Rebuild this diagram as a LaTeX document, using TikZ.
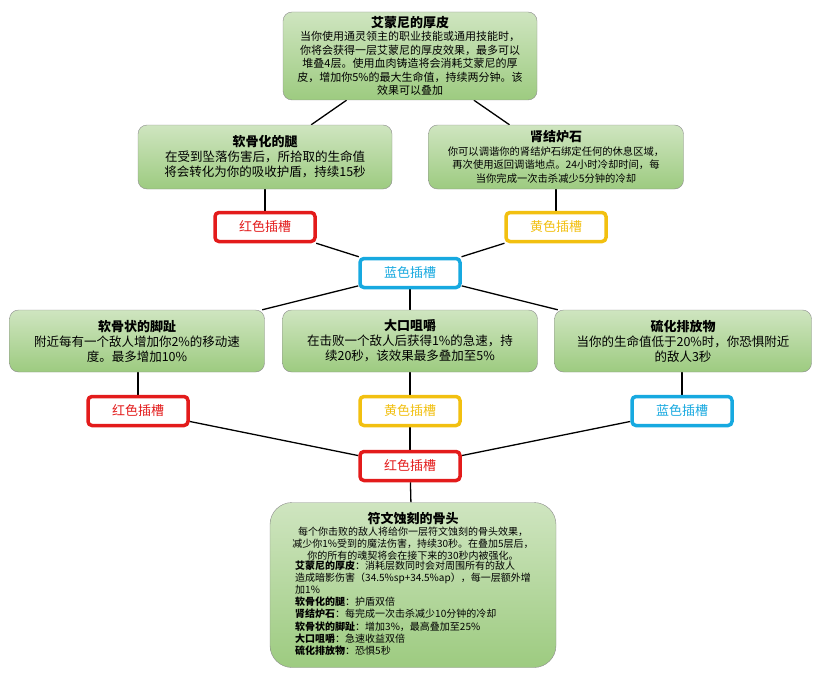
\documentclass[tikz,border=0pt]{standalone}
\usepackage{fontspec}
\setmainfont{Noto Sans CJK SC}
\usetikzlibrary{positioning, backgrounds}
\definecolor{gtop}{HTML}{CFE5C0}
\definecolor{gbot}{HTML}{9DCB80}
\definecolor{slotred}{HTML}{E31B1B}
\definecolor{slotyel}{HTML}{F2C010}
\definecolor{slotblu}{HTML}{17A9E0}
\tikzset{
  talent/.style={rectangle, draw=black!45, top color=gtop, bottom color=gbot,
    rounded corners=9pt, align=center, inner sep=2pt, font=\fontsize{12.5}{15}\selectfont},
  slot/.style={rectangle, draw=#1, line width=3.5pt, fill=white, rounded corners=4pt,
    minimum width=100pt, minimum height=29pt, text=#1, font=\fontsize{13}{15}\selectfont},
  link/.style={draw, line width=1.3pt},
}
\newcommand{\ttl}[1]{{\fontsize{13}{16}\selectfont\bfseries #1}}
\begin{document}
\begin{tikzpicture}[x=1pt, y=-1pt]
  \useasboundingbox (0,0) rectangle (821,682);
  \node [talent, minimum width=254pt, minimum height=88pt, font=\fontsize{11}{13.5}\selectfont] (hide) at (410,56)
    {\ttl{艾蒙尼的厚皮}\\当你使用通灵领主的职业技能或通用技能时，\\你将会获得一层艾蒙尼的厚皮效果，最多可以\\堆叠4层。使用血肉铸造将会消耗艾蒙尼的厚\\皮，增加你5\%的最大生命值，持续两分钟。该\\效果可以叠加};
  \node [talent, minimum width=254pt, minimum height=64pt] (legs) at (265,157)
    {\ttl{软骨化的腿}\\在受到坠落伤害后，所拾取的生命值\\将会转化为你的吸收护盾，持续15秒};
  \node [talent, minimum width=255pt, minimum height=64pt, font=\fontsize{10.3}{13.5}\selectfont] (stone) at (556,157)
    {\ttl{肾结炉石}\\你可以调谐你的肾结炉石绑定任何的休息区域，\\再次使用返回调谐地点。24小时冷却时间，每\\当你完成一次击杀减少5分钟的冷却};
  \node [slot=slotred] (sr1) at (265,227) {红色插槽};
  \node [slot=slotyel] (sy1) at (556,227) {黄色插槽};
  \node [slot=slotblu] (sb1) at (410,273) {蓝色插槽};
  \node [talent, minimum width=255pt, minimum height=62pt] (toes) at (137,341)
    {\ttl{软骨状的脚趾}\\附近每有一个敌人增加你2\%的移动速\\度。最多增加10\%};
  \node [talent, minimum width=255pt, minimum height=62pt] (chew) at (410,341)
    {\ttl{大口咀嚼}\\在击败一个敌人后获得1\%的急速，持\\续20秒，该效果最多叠加至5\%};
  \node [talent, minimum width=257pt, minimum height=62pt] (sulf) at (683,341)
    {\ttl{硫化排放物}\\当你的生命值低于20\%时，你恐惧附近\\的敌人3秒};
  \node [slot=slotred] (sr2) at (138,411) {红色插槽};
  \node [slot=slotyel] (sy2) at (410,411) {黄色插槽};
  \node [slot=slotblu] (sb2) at (682,411) {蓝色插槽};
  \node [slot=slotred] (sr3) at (410,466) {红色插槽};
  \node [talent, minimum width=286pt, minimum height=165pt, rounded corners=22pt,
    font=\fontsize{10}{11.9}\selectfont] (bone) at (413,585)
    {\ttl{符文蚀刻的骨头}\\每个你击败的敌人将给你一层符文蚀刻的骨头效果，\\减少你1\%受到的魔法伤害，持续30秒。在叠加5层后，\\你的所有的魂契将会在接下来的30秒内被强化。\\
     \begin{tabular}{@{}l@{}}
     \textbf{艾蒙尼的厚皮}：消耗层数同时会对周围所有的敌人\\
     造成暗影伤害（34.5\%sp+34.5\%ap），每一层额外增\\
     加1\%\\
     \textbf{软骨化的腿}：护盾双倍\\
     \textbf{肾结炉石}：每完成一次击杀减少10分钟的冷却\\
     \textbf{软骨状的脚趾}：增加3\%，最高叠加至25\%\\
     \textbf{大口咀嚼}：急速收益双倍\\
     \textbf{硫化排放物}：恐惧5秒
     \end{tabular}};
  \begin{scope}[on background layer]
    \path [link] (hide) -- (legs);
    \path [link] (hide) -- (stone);
    \path [link] (legs) -- (sr1);
    \path [link] (stone) -- (sy1);
    \path [link] (sr1) -- (sb1);
    \path [link] (sy1) -- (sb1);
    \path [link] (sb1) -- (toes);
    \path [link] (sb1) -- (chew);
    \path [link] (sb1) -- (sulf);
    \path [link] (toes.south -| sr2) -- (sr2);
    \path [link] (chew) -- (sy2);
    \path [link] (sulf.south -| sb2) -- (sb2);
    \path [link] (sr2) -- (sr3);
    \path [link] (sy2) -- (sr3);
    \path [link] (sb2) -- (sr3);
    \path [link] (sr3) -- (bone);
  \end{scope}
\end{tikzpicture}
\end{document}
